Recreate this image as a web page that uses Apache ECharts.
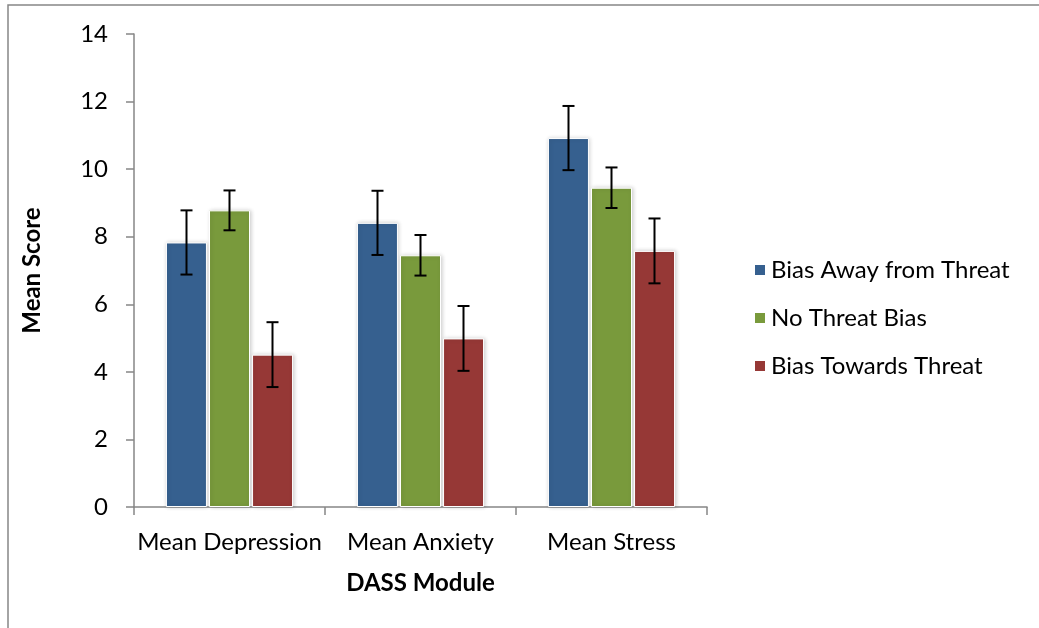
<!DOCTYPE html>
<html>
<head>
<meta charset="utf-8">
<script src="https://cdn.jsdelivr.net/npm/echarts@6/dist/echarts.min.js"></script>
<style>
html,body{margin:0;padding:0;background:#fff;}
#chart{width:1039px;height:628px;}
</style>
</head>
<body>
<div id="chart"></div>
<script>
var categories = ['Mean Depression', 'Mean Anxiety', 'Mean Stress'];
var seriesNames = ['Bias Away from Threat', 'No Threat Bias', 'Bias Towards Threat'];
var awayValues = [7.83, 8.41, 10.92];
var noBiasValues = [8.78, 7.45, 9.45];
var towardsValues = [4.51, 4.99, 7.58];
var awayErrors = [0.95, 0.95, 0.95];
var noBiasErrors = [0.59, 0.60, 0.60];
var towardsErrors = [0.96, 0.96, 0.96];
var yTicks = [0, 2, 4, 6, 8, 10, 12, 14];

var colors = ['#36608f', '#799a3c', '#963836'];
var FONT = 'Lato';
var FS = 24;
var BAR_W = 41, BAR_STEP = 43;

var values = [awayValues, noBiasValues, towardsValues];
var errors = [awayErrors, noBiasErrors, towardsErrors];

var series = [];
values.forEach(function (vals, i) {
  series.push({
    name: seriesNames[i],
    type: 'bar',
    data: vals,
    barWidth: BAR_W,
    barGap: '5%',
    itemStyle: {
      color: colors[i],
      borderColor: '#ffffff',
      borderWidth: 1,
      shadowColor: 'rgba(0,0,0,0.18)',
      shadowBlur: 4,
      shadowOffsetX: 1,
      shadowOffsetY: 0
    },
    z: 2
  });
});
values.forEach(function (vals, i) {
  var data = vals.map(function (v, k) { return [k, v - errors[i][k], v + errors[i][k]]; });
  series.push({
    type: 'custom',
    name: seriesNames[i] + ' error',
    z: 5,
    silent: true,
    data: data,
    encode: { x: 0, y: [1, 2] },
    renderItem: function (params, api) {
      var off = (i - 1) * BAR_STEP;
      var lo = api.coord([api.value(0), api.value(1)]);
      var hi = api.coord([api.value(0), api.value(2)]);
      var x = lo[0] + off;
      var cap = 6;
      var st = { stroke: '#000', lineWidth: 2 };
      return {
        type: 'group',
        children: [
          { type: 'line', shape: { x1: x, y1: lo[1], x2: x, y2: hi[1] }, style: st },
          { type: 'line', shape: { x1: x - cap, y1: lo[1], x2: x + cap, y2: lo[1] }, style: st },
          { type: 'line', shape: { x1: x - cap, y1: hi[1], x2: x + cap, y2: hi[1] }, style: st }
        ]
      };
    }
  });
});

var chart = echarts.init(document.getElementById('chart'), null, { renderer: 'canvas' });
chart.setOption({
  animation: false,
  backgroundColor: '#ffffff',
  textStyle: { fontFamily: FONT },
  grid: { left: 134, right: 332, top: 34, bottom: 121, containLabel: false },
  legend: {
    orient: 'vertical',
    left: 748,
    top: 253,
    itemWidth: 12,
    itemHeight: 12,
    itemGap: 24,
    icon: 'rect',
    data: seriesNames,
    textStyle: { fontFamily: FONT, fontSize: FS, lineHeight: 24, color: '#000' }
  },
  xAxis: {
    type: 'category',
    data: categories,
    name: 'DASS Module',
    nameLocation: 'middle',
    nameGap: 64,
    nameTextStyle: { fontFamily: FONT, fontSize: FS, fontWeight: 'bold', color: '#000' },
    axisLine: { lineStyle: { color: '#868686', width: 1.5 } },
    axisTick: { show: true, length: 8, lineStyle: { color: '#868686', width: 1.5 } },
    axisLabel: { fontFamily: FONT, fontSize: FS, color: '#000', margin: 23, interval: 0 }
  },
  yAxis: {
    type: 'value',
    min: yTicks[0],
    max: yTicks[yTicks.length - 1],
    interval: yTicks[1] - yTicks[0],
    name: 'Mean Score',
    nameLocation: 'middle',
    nameGap: 90,
    nameTextStyle: { fontFamily: FONT, fontSize: FS, fontWeight: 'bold', color: '#000' },
    axisLine: { show: true, lineStyle: { color: '#868686', width: 1.5 } },
    axisTick: { show: true, length: 8, inside: false, lineStyle: { color: '#868686', width: 1.5 } },
    splitLine: { show: false },
    axisLabel: { fontFamily: FONT, fontSize: FS, color: '#000', margin: 26 }
  },
  graphic: [
    { type: 'polyline', shape: { points: [[8, 628], [8, 5], [1039, 5]] }, style: { stroke: '#868686', lineWidth: 1.5, fill: null } }
  ],
  series: series
});
</script>
</body>
</html>
